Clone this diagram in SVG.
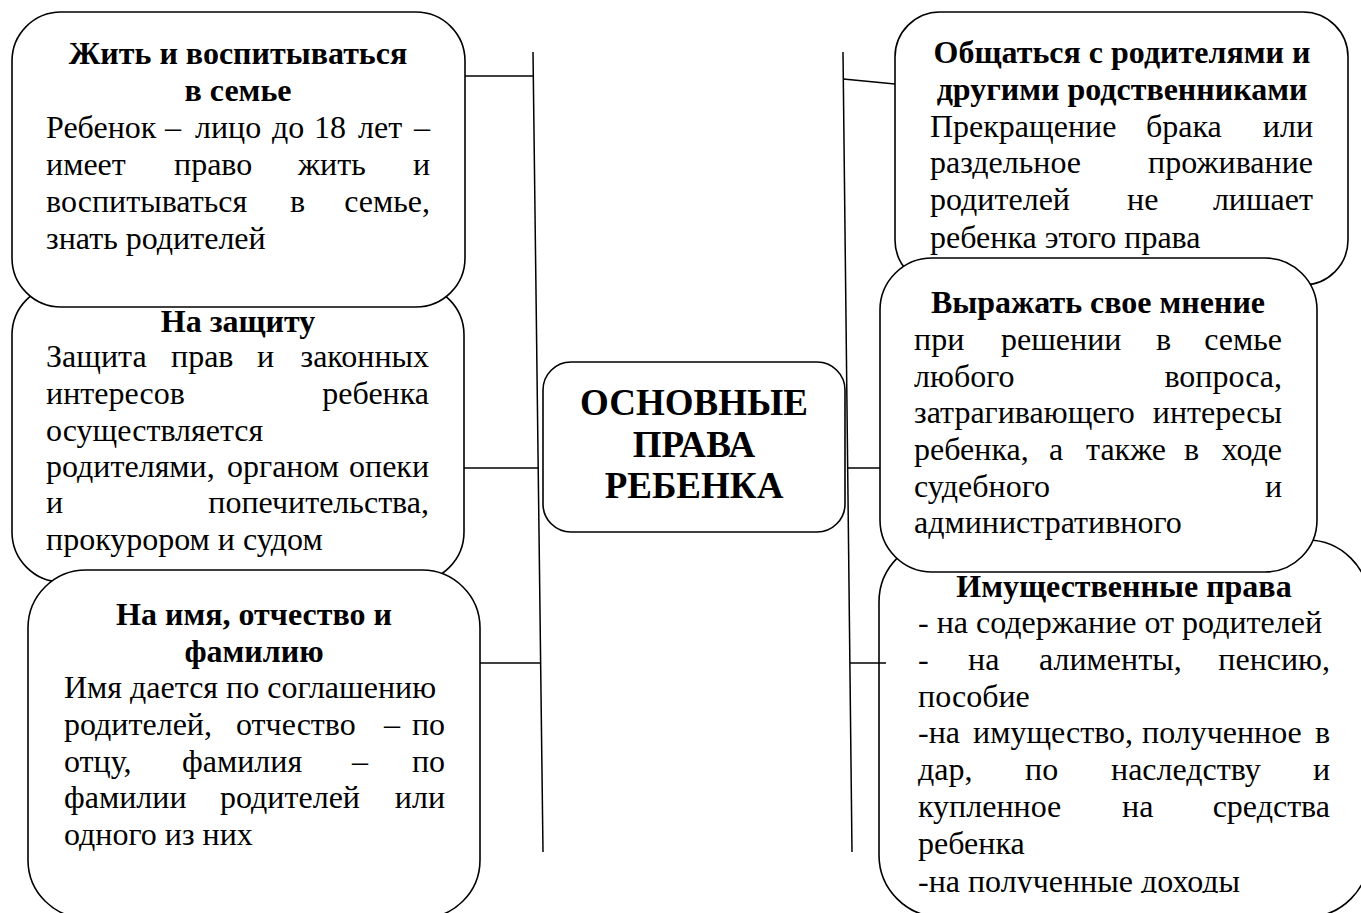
<svg xmlns="http://www.w3.org/2000/svg" width="1361" height="913" viewBox="0 0 1361 913">
<defs>
<style>
.box{fill:#fff;stroke:#000;stroke-width:1.6}
.ln{stroke:#000;stroke-width:1.5;fill:none}
text{font-family:"Liberation Serif","Times New Roman",serif;font-size:32px;fill:#000}
.t{font-weight:bold;text-anchor:middle}
.e{text-anchor:end}
.c{font-weight:bold;font-size:37px;text-anchor:middle}
</style>
<clipPath id="clip6"><rect x="870" y="530" width="500" height="363"/></clipPath>
</defs>
<rect width="1361" height="913" fill="#fff"/>

<g id="node-zaschita">
<rect class="box" x="12" y="285" width="452" height="297" rx="50"/>
<text class="t" x="238" y="332">На защиту</text>
<text y="367"><tspan x="46">Защита</tspan><tspan x="171">прав</tspan><tspan x="257">и</tspan></text><text class="e" x="429" y="367">законных</text>
<text x="46" y="404">интересов</text><text class="e" x="429" y="404">ребенка</text>
<text x="46" y="441">осуществляется</text>
<text y="477"><tspan x="46">родителями,</tspan><tspan x="227">органом</tspan></text><text class="e" x="429" y="477">опеки</text>
<text x="46" y="513">и</text><text class="e" x="429" y="513">попечительства,</text>
<text x="46" y="550">прокурором и судом</text>
</g>

<g id="node-zhit">
<rect class="box" x="12" y="12" width="453" height="295" rx="49"/>
<text class="t" x="238" y="64">Жить и воспитываться</text>
<text class="t" x="238" y="101">в семье</text>
<text y="138"><tspan x="46">Ребенок</tspan><tspan x="165">–</tspan><tspan x="195">лицо</tspan><tspan x="272">до</tspan><tspan x="314">18</tspan><tspan x="358">лет</tspan></text><text class="e" x="430" y="138">–</text>
<text y="175"><tspan x="46">имеет</tspan><tspan x="174">право</tspan><tspan x="298">жить</tspan></text><text class="e" x="430" y="175">и</text>
<text y="212"><tspan x="46">воспитываться</tspan><tspan x="290">в</tspan></text><text class="e" x="430" y="212">семье,</text>
<text x="46" y="249">знать родителей</text>
</g>

<g id="node-imya">
<rect class="box" x="28" y="570" width="452" height="348" rx="58"/>
<text class="t" x="254" y="625">На имя, отчество и</text>
<text class="t" x="254" y="662">фамилию</text>
<text x="64" y="698">Имя дается по соглашению</text>
<text y="735"><tspan x="64">родителей,</tspan><tspan x="236">отчество</tspan><tspan x="384">–</tspan></text><text class="e" x="445" y="735">по</text>
<text y="772"><tspan x="64">отцу,</tspan><tspan x="182">фамилия</tspan><tspan x="352">–</tspan></text><text class="e" x="445" y="772">по</text>
<text y="808"><tspan x="64">фамилии</tspan><tspan x="220">родителей</tspan></text><text class="e" x="445" y="808">или</text>
<text x="64" y="845">одного из них</text>
</g>

<g id="node-obschatsya">
<rect class="box" x="895" y="12" width="453" height="273" rx="45"/>
<text class="t" x="1122" y="63">Общаться с родителями и</text>
<text class="t" x="1122" y="100">другими родственниками</text>
<text y="137"><tspan x="930">Прекращение</tspan><tspan x="1146">брака</tspan></text><text class="e" x="1313" y="137">или</text>
<text x="930" y="173">раздельное</text><text class="e" x="1313" y="173">проживание</text>
<text y="210"><tspan x="930">родителей</tspan><tspan x="1127">не</tspan></text><text class="e" x="1313" y="210">лишает</text>
<text x="930" y="248">ребенка этого права</text>
</g>

<g id="node-imushch">
<rect class="box" x="879" y="540" width="490" height="377" rx="62"/>
<text class="t" x="1124" y="597">Имущественные права</text>
<text x="918" y="633">- на содержание от родителей</text>
<text y="670"><tspan x="918">-</tspan><tspan x="968">на</tspan><tspan x="1039">алименты,</tspan></text><text class="e" x="1330" y="670">пенсию,</text>
<text x="918" y="707">пособие</text>
<text y="743"><tspan x="918">-на</tspan><tspan x="973">имущество,</tspan><tspan x="1142">полученное</tspan></text><text class="e" x="1330" y="743">в</text>
<text y="780"><tspan x="918">дар,</tspan><tspan x="1025">по</tspan><tspan x="1111">наследству</tspan></text><text class="e" x="1330" y="780">и</text>
<text y="817"><tspan x="918">купленное</tspan><tspan x="1122">на</tspan></text><text class="e" x="1330" y="817">средства</text>
<text x="918" y="854">ребенка</text>
<text x="918" y="892" clip-path="url(#clip6)">-на полученные доходы</text>
</g>

<g id="node-mnenie">
<rect class="box" x="880" y="258" width="437" height="314" rx="52"/>
<text class="t" x="1098" y="313">Выражать свое мнение</text>
<text y="350"><tspan x="914">при</tspan><tspan x="1001">решении</tspan><tspan x="1156">в</tspan></text><text class="e" x="1282" y="350">семье</text>
<text x="914" y="387">любого</text><text class="e" x="1282" y="387">вопроса,</text>
<text x="914" y="423">затрагивающего</text><text class="e" x="1282" y="423">интересы</text>
<text y="460"><tspan x="914">ребенка,</tspan><tspan x="1049">а</tspan><tspan x="1086">также</tspan><tspan x="1184">в</tspan></text><text class="e" x="1282" y="460">ходе</text>
<text x="914" y="497">судебного</text><text class="e" x="1282" y="497">и</text>
<text x="914" y="533">административного</text>
</g>

<g id="node-center">
<rect class="box" x="543" y="362" width="302" height="170" rx="28"/>
<text class="c" x="694" y="415">ОСНОВНЫЕ</text>
<text class="c" x="694" y="457">ПРАВА</text>
<text class="c" x="694" y="498">РЕБЕНКА</text>
</g>

<g id="connectors">
<line class="ln" x1="533" y1="52" x2="543" y2="852"/>
<line class="ln" x1="843" y1="52" x2="852" y2="852"/>
<line class="ln" x1="465" y1="76" x2="533.5" y2="76"/>
<line class="ln" x1="464" y1="468" x2="538.2" y2="468"/>
<line class="ln" x1="480" y1="663" x2="541" y2="663"/>
<line class="ln" x1="843.3" y1="79" x2="895" y2="84"/>
<line class="ln" x1="847.7" y1="468" x2="880" y2="468"/>
<line class="ln" x1="850" y1="663" x2="886" y2="663"/>
</g>
</svg>
